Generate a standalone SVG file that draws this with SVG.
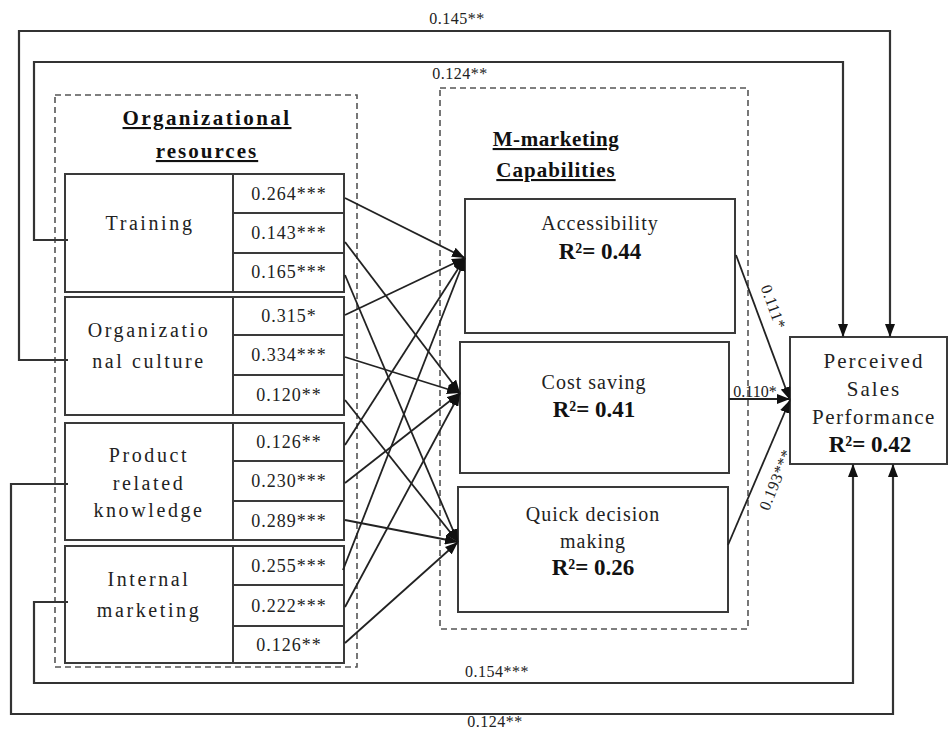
<svg xmlns="http://www.w3.org/2000/svg" width="950" height="730" viewBox="0 0 950 730">
<defs>
<style>
.box{fill:#fff;stroke:#3a3a3a;stroke-width:2}
.dash{fill:none;stroke:#555;stroke-width:1.6;stroke-dasharray:6 4}
.ln{fill:none;stroke:#222;stroke-width:1.8}
.ln2{fill:none;stroke:#333;stroke-width:2.2}
.nm{font-family:"Liberation Serif","Times New Roman",serif;font-size:20px;letter-spacing:2.6px;fill:#222;text-anchor:middle}
.cf{font-family:"Liberation Serif","Times New Roman",serif;font-size:18px;letter-spacing:1px;fill:#222;text-anchor:middle}
.ttl{font-family:"Liberation Serif","Times New Roman",serif;font-size:21px;font-weight:bold;letter-spacing:1.5px;fill:#111;text-anchor:middle;text-decoration:underline}
.mm{font-family:"Liberation Serif","Times New Roman",serif;font-size:20px;letter-spacing:1px;fill:#222;text-anchor:middle}
.r2{font-family:"Liberation Serif","Times New Roman",serif;font-size:23px;font-weight:bold;fill:#111;text-anchor:middle}
.lb{font-family:"Liberation Serif","Times New Roman",serif;font-size:16px;letter-spacing:0.5px;fill:#222;text-anchor:middle}
</style>
<marker id="ah" markerUnits="userSpaceOnUse" markerWidth="13" markerHeight="10" refX="13" refY="5" orient="auto">
<path d="M0,0 L13,5 L0,10 z" fill="#111"/>
</marker>
</defs>
<rect width="950" height="730" fill="#fff"/>

<g id="group-org-resources">
<rect class="dash" x="55" y="95" width="302" height="572"/>
<text class="ttl" x="207" y="125" style="letter-spacing:2.4px">Organizational</text>
<text class="ttl" x="207" y="158" style="letter-spacing:2px">resources</text>
</g>

<g id="group-m-marketing">
<rect class="dash" x="440" y="88" width="308" height="541"/>
<text class="ttl" x="556" y="146" style="letter-spacing:0.6px">M-marketing</text>
<text class="ttl" x="556" y="177" style="letter-spacing:1px">Capabilities</text>
</g>

<g id="node-training">
<rect class="box" x="65" y="174" width="168" height="118"/>
<rect class="box" x="233" y="174" width="111" height="39"/>
<rect class="box" x="233" y="213" width="111" height="40"/>
<rect class="box" x="233" y="253" width="111" height="39"/>
<text class="nm" x="150" y="230">Training</text>
<text class="cf" x="289" y="200">0.264***</text>
<text class="cf" x="289" y="239">0.143***</text>
<text class="cf" x="289" y="278">0.165***</text>
</g>

<g id="node-culture">
<rect class="box" x="65" y="297" width="168" height="118"/>
<rect class="box" x="233" y="297" width="111" height="38"/>
<rect class="box" x="233" y="335" width="111" height="40"/>
<rect class="box" x="233" y="375" width="111" height="40"/>
<text class="nm" x="149" y="337">Organizatio</text>
<text class="nm" x="149" y="368">nal culture</text>
<text class="cf" x="289" y="322">0.315*</text>
<text class="cf" x="289" y="361">0.334***</text>
<text class="cf" x="289" y="401">0.120**</text>
</g>

<g id="node-product">
<rect class="box" x="65" y="423" width="168" height="117"/>
<rect class="box" x="233" y="423" width="111" height="38"/>
<rect class="box" x="233" y="461" width="111" height="40"/>
<rect class="box" x="233" y="501" width="111" height="39"/>
<text class="nm" x="149" y="462">Product</text>
<text class="nm" x="149" y="490">related</text>
<text class="nm" x="149" y="517">knowledge</text>
<text class="cf" x="289" y="448">0.126**</text>
<text class="cf" x="289" y="487">0.230***</text>
<text class="cf" x="289" y="527">0.289***</text>
</g>

<g id="node-internal">
<rect class="box" x="65" y="546" width="168" height="117"/>
<rect class="box" x="233" y="546" width="111" height="39"/>
<rect class="box" x="233" y="585" width="111" height="41"/>
<rect class="box" x="233" y="626" width="111" height="37"/>
<text class="nm" x="149" y="586">Internal</text>
<text class="nm" x="149" y="617">marketing</text>
<text class="cf" x="289" y="572">0.255***</text>
<text class="cf" x="289" y="612">0.222***</text>
<text class="cf" x="289" y="651">0.126**</text>
</g>

<g id="node-accessibility">
<rect class="box" x="465" y="199" width="270" height="134"/>
<text class="mm" x="600" y="230">Accessibility</text>
<text class="r2" x="600" y="259">R²= 0.44</text>
</g>

<g id="node-cost">
<rect class="box" x="460" y="342" width="269" height="131"/>
<text class="mm" x="594" y="389">Cost saving</text>
<text class="r2" x="594" y="417">R²= 0.41</text>
</g>

<g id="node-quick">
<rect class="box" x="458" y="487" width="270" height="125"/>
<text class="mm" x="593" y="521">Quick decision</text>
<text class="mm" x="593" y="548">making</text>
<text class="r2" x="593" y="575">R²= 0.26</text>
</g>

<g id="node-psp">
<rect class="box" x="790" y="337" width="157" height="127"/>
<text class="nm" x="874" y="368" style="letter-spacing:2px;font-size:21px">Perceived</text>
<text class="nm" x="874" y="396" style="letter-spacing:2px;font-size:21px">Sales</text>
<text class="nm" x="874" y="424" style="letter-spacing:1.5px;font-size:21px">Performance</text>
<text class="r2" x="870" y="452">R²= 0.42</text>
</g>

<g id="connectors">
<line class="ln" x1="345" y1="198" x2="465" y2="258" marker-end="url(#ah)"/>
<line class="ln" x1="345" y1="242" x2="460" y2="393" marker-end="url(#ah)"/>
<line class="ln" x1="345" y1="275" x2="458" y2="542" marker-end="url(#ah)"/>
<line class="ln" x1="345" y1="315" x2="465" y2="258" marker-end="url(#ah)"/>
<line class="ln" x1="345" y1="357" x2="460" y2="393" marker-end="url(#ah)"/>
<line class="ln" x1="345" y1="400" x2="458" y2="542" marker-end="url(#ah)"/>
<line class="ln" x1="345" y1="445" x2="465" y2="258" marker-end="url(#ah)"/>
<line class="ln" x1="345" y1="483" x2="460" y2="393" marker-end="url(#ah)"/>
<line class="ln" x1="345" y1="520" x2="458" y2="542" marker-end="url(#ah)"/>
<line class="ln" x1="343" y1="570" x2="465" y2="258" marker-end="url(#ah)"/>
<line class="ln" x1="345" y1="607" x2="460" y2="393" marker-end="url(#ah)"/>
<line class="ln" x1="345" y1="643" x2="458" y2="542" marker-end="url(#ah)"/>

<line class="ln" x1="736" y1="255" x2="790" y2="400" marker-end="url(#ah)"/>
<line class="ln" x1="729" y1="399" x2="790" y2="399" marker-end="url(#ah)"/>
<line class="ln" x1="728" y1="545" x2="790" y2="400" marker-end="url(#ah)"/>

<polyline class="ln2" points="68,240 34,240 34,62 843,62 843,337" marker-end="url(#ah)"/>
<polyline class="ln2" points="68,360 19,360 19,31 890,31 890,337" marker-end="url(#ah)"/>
<polyline class="ln2" points="68,484 11,484 11,714 893,714 893,464" marker-end="url(#ah)"/>
<polyline class="ln2" points="68,602 34,602 34,683 853,683 853,464" marker-end="url(#ah)"/>

<text class="lb" x="457" y="24">0.145**</text>
<text class="lb" x="460" y="79">0.124**</text>
<text class="lb" x="497" y="677">0.154***</text>
<text class="lb" x="495" y="727">0.124**</text>
<text class="lb" x="755" y="397" style="letter-spacing:0">0.110*</text>
<text class="lb" transform="translate(773,307) rotate(70)" x="0" y="5">0.111*</text>
<text class="lb" transform="translate(776,480) rotate(-68)" x="0" y="5">0.193***</text>
</g>
</svg>
